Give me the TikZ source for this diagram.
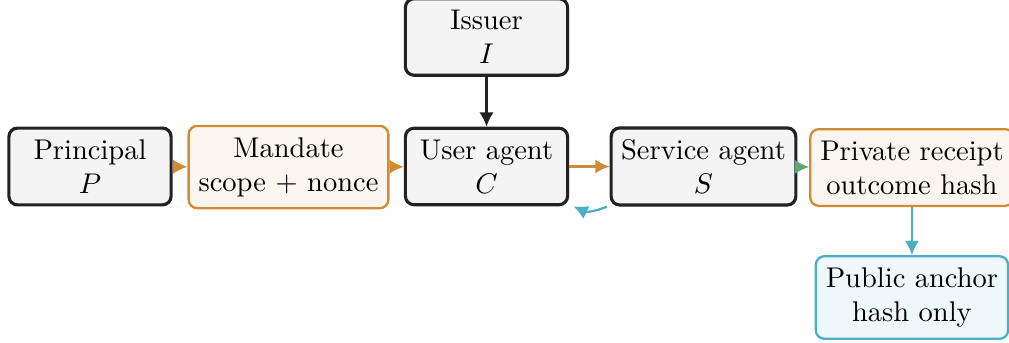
\documentclass[tikz,border=0pt]{standalone}
\usetikzlibrary{arrows.meta,positioning}

\definecolor{inkdark}{HTML}{222222}
\definecolor{boxgray}{HTML}{F4F4F4}
\definecolor{mandorange}{HTML}{D08C32}
\definecolor{mandfill}{HTML}{FAF5EE}
\definecolor{anchorteal}{HTML}{4AAFC6}
\definecolor{anchorfill}{HTML}{EEF7F9}
\definecolor{receiptgreen}{HTML}{5EA878}

\tikzset{
    party/.style={draw=inkdark, line width=1.1pt, fill=boxgray, rounded corners=3pt,
        align=center, inner xsep=3.5pt, inner ysep=4pt, minimum width=2cm},
    token/.style={draw=mandorange, line width=0.8pt, fill=mandfill, rounded corners=3pt,
        align=center, inner xsep=3.5pt, inner ysep=4pt, minimum width=2cm},
    anchorbox/.style={draw=anchorteal, line width=0.8pt, fill=anchorfill, rounded corners=3pt,
        align=center, inner xsep=3.5pt, inner ysep=4pt, minimum width=2cm},
    flow/.style={-{Latex[length=5pt,width=5pt]}, line width=0.8pt},
}

\begin{document}
\begin{tikzpicture}
    \useasboundingbox (0,0) rectangle (12.444,-4.230);

    % parties and tokens
    \node[party] (principal) at (1.110,-2.053) {Principal\\$P$};
    \node[token] (mandate) at (3.558,-2.060) {Mandate\\scope + nonce};
    \node[party] (user) at (6.000,-2.053) {User agent\\$C$};
    \node[party] (issuer) at (6.000,-0.456) {Issuer\\$I$};
    \node[party] (service) at (8.676,-2.053) {Service agent\\$S$};
    \node[token] (receipt) at (11.247,-2.066) {Private receipt\\outcome hash};
    \node[anchorbox] (public) at (11.247,-3.669) {Public anchor\\hash only};

    % connectors
    \draw[flow, inkdark] (issuer) -- (user);
    \draw[flow, mandorange] (principal) -- (mandate);
    \draw[flow, mandorange] (mandate) -- (user);
    \draw[flow, mandorange] (user) -- (service);
    \draw[flow, anchorteal] ([xshift=-1pt]service.south west) to[bend left=25] ([xshift=1.5pt]user.south east);
    \draw[flow, receiptgreen] (service) -- (receipt);
    \draw[flow, anchorteal] (receipt) -- (public);
\end{tikzpicture}
\end{document}
